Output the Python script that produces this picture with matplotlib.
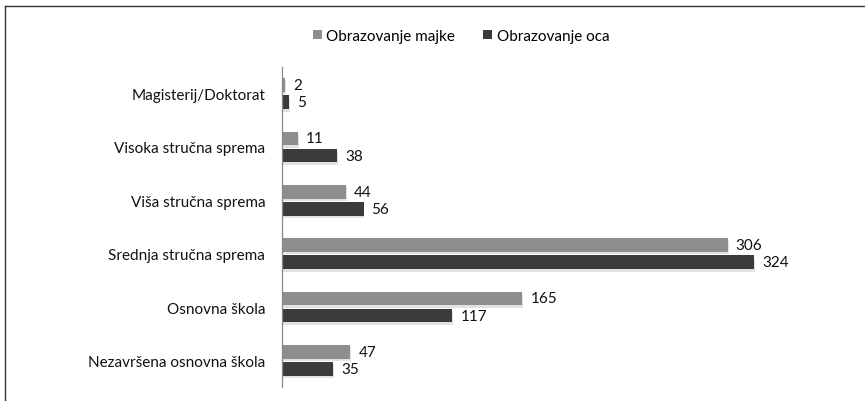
import matplotlib.pyplot as plt
import numpy as np

categories = ['Magisterij/Doktorat', 'Visoka stručna sprema', 'Viša stručna sprema',
              'Srednja stručna sprema', 'Osnovna škola', 'Nezavršena osnovna škola']
majke = [2, 11, 44, 306, 165, 47]
oca = [5, 38, 56, 324, 117, 35]

plt.rcParams['font.family'] = ['Lato', 'DejaVu Sans']

W, H = 865, 402
fig = plt.figure(figsize=(W / 100, H / 100), dpi=100)

# axes placement in pixels
ax_left, ax_right, ax_top, ax_bottom = 282, 848, 68, 388
ax = fig.add_axes([ax_left / W, 1 - ax_bottom / H, (ax_right - ax_left) / W, (ax_bottom - ax_top) / H])

y = np.arange(len(categories))
bh = 0.26
off = 0.16
col_m = '#8e8e8e'
col_o = '#3b3b3b'
fs = 11

# soft shadows
ax.barh(y - off + 0.045, majke, height=bh, left=0.6, color='#e2e2e2', zorder=1)
ax.barh(y + off + 0.045, oca, height=bh, left=0.6, color='#e2e2e2', zorder=1)
bm = ax.barh(y - off, majke, height=bh, color=col_m, label='Obrazovanje majke', zorder=2)
bo = ax.barh(y + off, oca, height=bh, color=col_o, label='Obrazovanje oca', zorder=2)

for yi, v in zip(y, majke):
    ax.text(v + 5.5, yi - off, str(v), va='center', ha='left', fontsize=fs, color='#111111')
for yi, v in zip(y, oca):
    ax.text(v + 5.5, yi + off, str(v), va='center', ha='left', fontsize=fs, color='#111111')

ax.set_ylim(len(categories) - 0.5, -0.5)
ax.set_xlim(0, (ax_right - ax_left) / 1.457)
ax.set_yticks(y)
ax.set_yticklabels(categories, fontsize=fs, color='#111111')
ax.tick_params(axis='y', length=0, pad=12)
ax.set_xticks([])
for s in ['top', 'right', 'bottom']:
    ax.spines[s].set_visible(False)
ax.spines['left'].set_color('#888888')
ax.spines['left'].set_linewidth(0.9)

fig.legend(handles=[bm, bo], loc='center', bbox_to_anchor=(461 / W, 1 - 37 / H), ncol=2,
           frameon=False, fontsize=fs, handlelength=0.6, handleheight=0.6,
           handletextpad=0.3, columnspacing=1.8)

# outer frame (left and top edges)
fig.add_artist(plt.Line2D([5 / W, 5 / W], [0, 1 - 7 / H], transform=fig.transFigure, color='#333333', lw=1))
fig.add_artist(plt.Line2D([5 / W, 1], [1 - 7 / H, 1 - 7 / H], transform=fig.transFigure, color='#333333', lw=1))

fig.savefig('out.png', dpi=100)
